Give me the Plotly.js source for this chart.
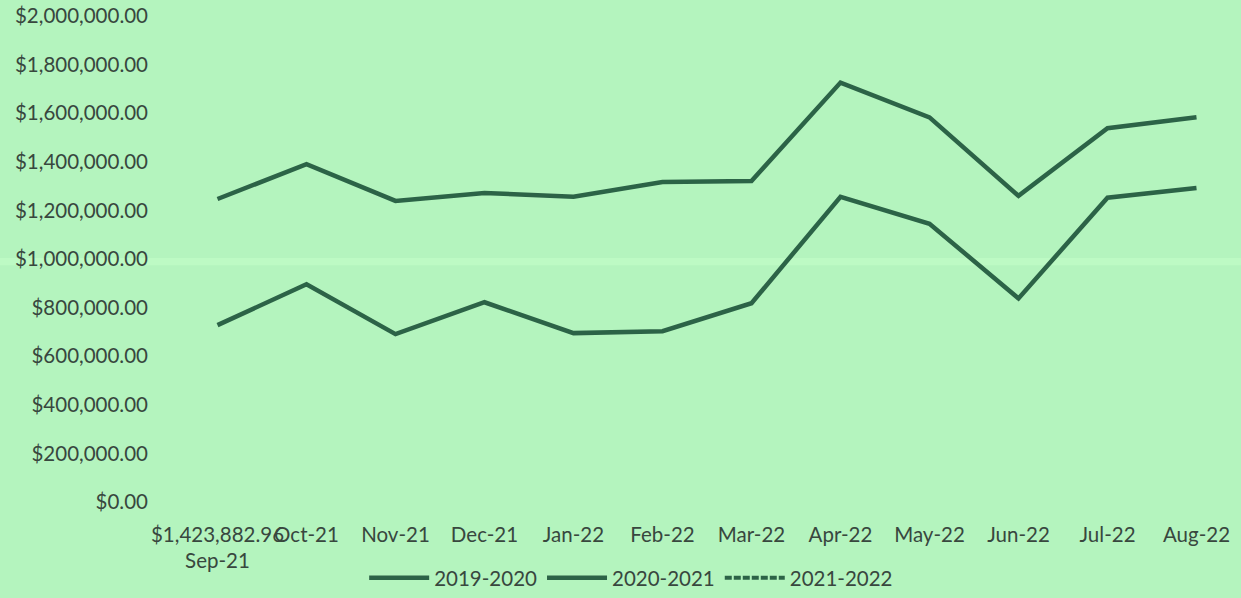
<!DOCTYPE html>
<html>
<head>
<meta charset="utf-8">
<script src="https://cdn.plot.ly/plotly-3.0.1.min.js"></script>
<style>
html,body{margin:0;padding:0;background:#b4f4be;}
#chart{width:1241px;height:598px;}
</style>
</head>
<body>
<div id="chart"></div>
<script>
const categories = ["Sep-21","Oct-21","Nov-21","Dec-21","Jan-22","Feb-22","Mar-22","Apr-22","May-22","Jun-22","Jul-22","Aug-22"];
const tickLabels = ["$1,423,882.96<br>Sep-21","Oct-21","Nov-21","Dec-21","Jan-22","Feb-22","Mar-22","Apr-22","May-22","Jun-22","Jul-22","Aug-22"];
const seriesNames = ["2019-2020","2020-2021","2021-2022"];
const values2019_2020 = [728000, 896000, 691000, 822000, 695000, 703000, 818000, 1256000, 1145000, 838000, 1252000, 1292000];
const values2020_2021 = [1247000, 1390000, 1239000, 1272000, 1256000, 1317000, 1321000, 1726000, 1583000, 1260000, 1538000, 1583000];
const values2021_2022 = [null, null, null, null, null, null, null, null, null, null, null, null];

const lineColor = "#2c6347";
const textColor = "#38473e";
const font = {family: "Lato, 'Open Sans', sans-serif", size: 20.5, color: textColor};

const traces = [
  {x: categories, y: values2019_2020, name: seriesNames[0], type: "scatter", mode: "lines",
   line: {color: lineColor, width: 4.5}},
  {x: categories, y: values2020_2021, name: seriesNames[1], type: "scatter", mode: "lines",
   line: {color: lineColor, width: 4.5}},
  {x: categories, y: values2021_2022, name: seriesNames[2], type: "scatter", mode: "lines",
   line: {color: lineColor, width: 4, dash: "7px,2px"}}
];

const layout = {
  width: 1241, height: 598,
  paper_bgcolor: "#b4f4be", plot_bgcolor: "rgba(0,0,0,0)",
  margin: {l: 173, r: 0, t: 16, b: 93},
  font: font,
  showlegend: true,
  legend: {orientation: "h", x: 0.429, xanchor: "center", y: -0.157, yanchor: "middle",
           font: font, bgcolor: "rgba(0,0,0,0)", itemwidth: 60, traceorder: "normal"},
  shapes: [{type: "rect", xref: "paper", yref: "paper", x0: -0.2, x1: 1.05,
            y0: 0.487, y1: 0.502, fillcolor: "#bdfac4", line: {width: 0}, layer: "below"}],
  xaxis: {type: "category", range: [-0.5, 11.5], tickmode: "array", tickvals: categories, ticktext: tickLabels,
          showgrid: false, zeroline: false, showline: false, ticks: "", ticklabelstandoff: 18, tickangle: 0,
          automargin: false, fixedrange: true},
  yaxis: {range: [0, 2000000], tickmode: "linear", tick0: 0, dtick: 200000,
          tickprefix: "$", tickformat: ",.2f", showgrid: false, zeroline: false, showline: false,
          ticks: "", ticklabelstandoff: 24, automargin: false, fixedrange: true}
};

Plotly.newPlot("chart", traces, layout, {displayModeBar: false, staticPlot: true});
</script>
</body>
</html>
